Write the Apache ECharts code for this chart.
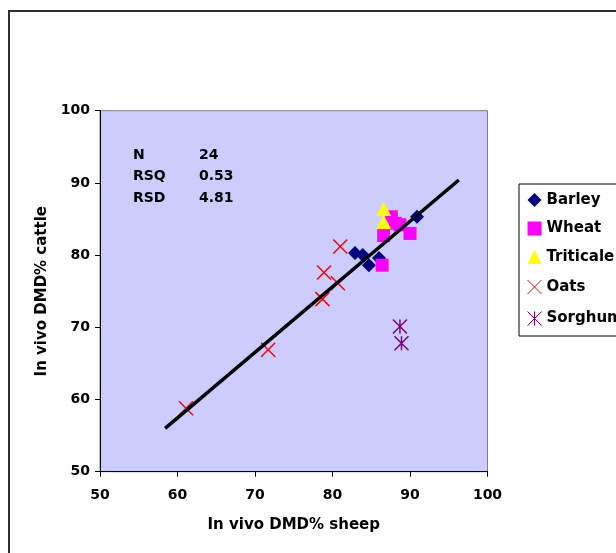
<!DOCTYPE html>
<html>
<head>
<meta charset="utf-8">
<script src="https://cdn.jsdelivr.net/npm/echarts@6/dist/echarts.min.js"></script>
<style>html,body{margin:0;padding:0;background:#fff;}#c{width:616px;height:553px;}</style>
</head>
<body>
<div id="c"></div>
<script>
var barleyX = [82.9, 83.9, 84.7, 86.0, 90.9];
var barleyY = [80.3, 80.0, 78.6, 79.6, 85.3];
var wheatX = [86.6, 90.0, 87.6, 88.1, 88.7, 86.4];
var wheatY = [82.7, 83.0, 85.3, 84.4, 84.2, 78.6];
var triticaleX = [86.6, 86.6];
var triticaleY = [86.4, 84.6];
var oatsX = [61.1, 71.7, 81.0, 78.9, 80.7, 78.7];
var oatsY = [58.8, 66.9, 81.2, 77.6, 76.1, 73.9];
var sorghumX = [88.7, 88.9];
var sorghumY = [70.1, 67.8];
var fitX = [58.4, 96.3];
var fitY = [56.0, 90.4];
var seriesNames = ['Barley', 'Wheat', 'Triticale', 'Oats', 'Sorghum'];
var xTicks = [50, 60, 70, 80, 90, 100];
var yTicks = [50, 60, 70, 80, 90, 100];
var statLabels = ['N', 'RSQ', 'RSD'];
var statValues = ['24', '0.53', '4.81'];

function pairs(xs, ys) { return xs.map(function (x, i) { return [x, ys[i]]; }); }

var FONT = 'DejaVu Sans';
var chart = echarts.init(document.getElementById('c'), null, { renderer: 'canvas' });

var graphics = [{
  type: 'rect', shape: { x: 9, y: 11, width: 700, height: 600 },
  style: { fill: 'none', stroke: '#303030', lineWidth: 2 }, z: 0
}];
statLabels.forEach(function (s, i) {
  graphics.push({ type: 'text', left: 133, top: 148 + i * 21.7, z: 10,
    style: { text: s, font: 'bold 14px "' + FONT + '"', fill: '#000' } });
  graphics.push({ type: 'text', left: 199, top: 148 + i * 21.7, z: 10,
    style: { text: statValues[i], font: 'bold 14px "' + FONT + '"', fill: '#000' } });
});

var xPath = 'path://M0,0L10,10M10,0L0,10';
var astPath = 'path://M0,0L10,10M10,0L0,10M5,0L5,10';

chart.setOption({
  animation: false,
  backgroundColor: '#ffffff',
  grid: { left: 100, top: 110.7, right: 128.5, bottom: 81.3, show: true,
    backgroundColor: '#CCCCFF', borderColor: '#808080', borderWidth: 1 },
  legend: {
    orient: 'vertical', left: 519, top: 184,
    data: [
      { name: 'Barley', icon: 'diamond' },
      { name: 'Wheat', icon: 'rect' },
      { name: 'Triticale', icon: 'triangle' },
      { name: 'Oats', icon: xPath, itemStyle: { borderWidth: 1 } },
      { name: 'Sorghum', icon: astPath, itemStyle: { borderWidth: 1 } }
    ],
    backgroundColor: '#ffffff', borderColor: '#000', borderWidth: 1,
    padding: [8, 40, 8, 6], itemWidth: 14, itemHeight: 14, itemGap: 12.5,
    textStyle: { fontFamily: FONT, fontWeight: 'bold', fontSize: 15, color: '#000', lineHeight: 16 }
  },
  xAxis: {
    type: 'value', min: 50, max: 100, interval: 10,
    name: 'In vivo DMD% sheep', nameLocation: 'middle', nameGap: 46,
    nameTextStyle: { fontFamily: FONT, fontWeight: 'bold', fontSize: 15, color: '#000' },
    axisLine: { show: true, onZero: false, lineStyle: { color: '#000', width: 1 } },
    axisTick: { show: true, inside: false, length: 5, lineStyle: { color: '#000' } },
    splitLine: { show: false },
    axisLabel: { margin: 17, fontFamily: FONT, fontWeight: 'bold', fontSize: 14, color: '#000',
      formatter: function (v) { return xTicks.indexOf(v) >= 0 ? String(v) : ''; } }
  },
  yAxis: {
    type: 'value', min: 50, max: 100, interval: 10,
    name: 'In vivo DMD% cattle', nameLocation: 'middle', nameGap: 45, nameRotate: 90,
    nameTextStyle: { fontFamily: FONT, fontWeight: 'bold', fontSize: 15, color: '#000' },
    axisLine: { show: true, onZero: false, lineStyle: { color: '#000', width: 1 } },
    axisTick: { show: true, inside: false, length: 5, lineStyle: { color: '#000' } },
    splitLine: { show: false },
    axisLabel: { margin: 10, fontFamily: FONT, fontWeight: 'bold', fontSize: 14, color: '#000',
      formatter: function (v) { return yTicks.indexOf(v) >= 0 ? String(v) : ''; } }
  },
  graphic: graphics,
  series: [
    { name: 'Barley', type: 'scatter', symbol: 'diamond', symbolSize: 14,
      itemStyle: { color: '#000080', opacity: 1 }, data: pairs(barleyX, barleyY), z: 3 },
    { name: 'Wheat', type: 'scatter', symbol: 'rect', symbolSize: 13,
      itemStyle: { color: '#FF00FF', opacity: 1 }, data: pairs(wheatX, wheatY), z: 3 },
    { name: 'Triticale', type: 'scatter', symbol: 'triangle', symbolSize: [15, 14],
      itemStyle: { color: '#FFFF00', opacity: 1 }, data: pairs(triticaleX, triticaleY), z: 3 },
    { name: 'Oats', type: 'scatter', symbol: xPath, symbolSize: 14,
      itemStyle: { color: 'none', borderColor: '#FF0000', borderWidth: 1.5, opacity: 1 },
      data: pairs(oatsX, oatsY), z: 3 },
    { name: 'Sorghum', type: 'scatter', symbol: astPath, symbolSize: 14,
      itemStyle: { color: 'none', borderColor: '#800080', borderWidth: 1.5, opacity: 1 },
      data: pairs(sorghumX, sorghumY), z: 3 },
    { name: 'fit', type: 'line', showSymbol: false, symbol: 'none', z: 5,
      lineStyle: { color: '#000', width: 3.5 }, data: pairs(fitX, fitY) }
  ]
});
</script>
</body>
</html>
